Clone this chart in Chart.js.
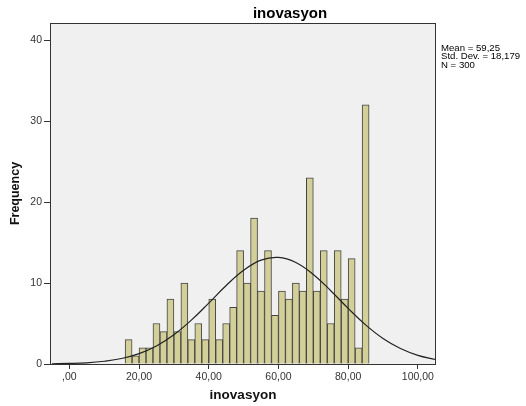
<!DOCTYPE html>
<html>
<head>
<meta charset="utf-8">
<script src="https://cdn.jsdelivr.net/npm/chart.js@4.4.0/dist/chart.umd.min.js"></script>
<style>
  body { margin: 0; background: #fff; }
  #histChart { display: block; }
</style>
</head>
<body>
<canvas id="histChart" width="526" height="406"></canvas>
<script>
// Histogram bins (width 2), centres and counts
const binCenters = [17, 19, 21, 23, 25, 27, 29, 31, 33, 35, 37, 39, 41, 43, 45, 47, 49, 51, 53, 55,
                    57, 59, 61, 63, 65, 67, 69, 71, 73, 75, 77, 79, 81, 83, 85];
const counts = [3, 1, 2, 2, 5, 4, 8, 4, 10, 3, 5, 3, 8, 3, 5, 7, 14, 10, 18, 9,
                14, 6, 9, 8, 10, 9, 23, 9, 14, 5, 14, 8, 13, 2, 32];

// Normal curve
const curveX = [-5, 0, 5, 10, 15, 20, 25, 30, 35, 40, 45, 50, 55, 60, 65, 70, 75, 80, 85, 90, 95, 100, 105];
const curveY = [0.03, 0.07, 0.15, 0.34, 0.68, 1.28, 2.23, 3.61, 5.41, 7.52, 9.69, 11.57, 12.82, 13.16,
                12.53, 11.06, 9.05, 6.87, 4.83, 3.15, 1.91, 1.07, 0.56];

// Axis ticks
const xTickValues = [0, 20, 40, 60, 80, 100];
const xTickLabels = [',00', '20,00', '40,00', '60,00', '80,00', '100,00'];
const yTickValues = [0, 10, 20, 30, 40];

const statLines = ['Mean = 59,25', 'Std. Dev. = 18,179', 'N = 300'];

const FONT = "'Liberation Sans', Arial, sans-serif";

// background, frame, title and stats box
const frame = {
    id: 'frame',
    beforeDraw(chart) {
        const { ctx, chartArea: a } = chart;
        ctx.save();
        ctx.fillStyle = '#f0f0f0';
        ctx.fillRect(a.left, a.top, a.right - a.left, a.bottom - a.top);
        ctx.restore();
    },
    afterDraw(chart) {
        const { ctx, chartArea: a } = chart;
        ctx.save();
        ctx.strokeStyle = '#333';
        ctx.lineWidth = 1;
        ctx.strokeRect(a.left + 0.5, a.top + 0.5, a.right - a.left - 1, a.bottom - a.top);

        ctx.fillStyle = '#000';
        ctx.font = 'bold 15px ' + FONT;
        ctx.textAlign = 'center';
        ctx.textBaseline = 'alphabetic';
        ctx.fillText('inovasyon', 290, 18);

        // the stats text is a bit wide in the original, stretch it
        ctx.font = '8.5px ' + FONT;
        ctx.textAlign = 'left';
        statLines.forEach((s, i) => {
            ctx.save();
            ctx.translate(441, 50.5 + i * 8.5);
            ctx.scale(1.13, 1);
            ctx.fillText(s, 0, 0);
            ctx.restore();
        });
        ctx.restore();
    }
};

const ctx = document.getElementById('histChart').getContext('2d');
const histChart = new Chart(ctx, {
    type: 'bar',
    data: {
        datasets: [{
            type: 'bar',
            data: binCenters.map((c, i) => ({ x: c, y: counts[i] })),
            backgroundColor: '#d3cf98',
            borderColor: '#444',
            borderWidth: 1,
            barPercentage: 1,
            categoryPercentage: 1,
            order: 2
        }, {
            type: 'line',
            data: curveX.map((x, i) => ({ x: x, y: curveY[i] })),
            borderColor: '#222',
            borderWidth: 1.2,
            pointRadius: 0,
            tension: 0.4,
            fill: false,
            order: 1
        }]
    },
    options: {
        responsive: false,
        animation: false,
        layout: { padding: { top: 23, right: 90, left: 0, bottom: 0 } },
        plugins: { legend: { display: false }, tooltip: { enabled: false } },
        scales: {
            x: {
                type: 'linear',
                min: -5.55,
                max: 105.2,
                offset: false,
                afterBuildTicks: s => { s.ticks = xTickValues.map(v => ({ value: v })); },
                afterFit: s => { s.height = 42; },
                ticks: {
                    color: '#333',
                    font: { family: FONT, size: 10.5 },
                    padding: 2,
                    maxRotation: 0,
                    callback: (v) => xTickLabels[xTickValues.indexOf(v)]
                },
                grid: { display: true, drawOnChartArea: false, drawTicks: true, tickLength: 5, color: '#333', offset: false },
                border: { display: false },
                title: {
                    display: true,
                    text: 'inovasyon',
                    color: '#111',
                    font: { family: FONT, size: 13.5, weight: 'bold' },
                    padding: { top: 0, bottom: 2.5 }
                }
            },
            y: {
                min: 0,
                max: 42.1,
                afterBuildTicks: s => { s.ticks = yTickValues.map(v => ({ value: v })); },
                afterFit: s => { s.width = 50; },
                ticks: {
                    color: '#333',
                    font: { family: FONT, size: 10.5 },
                    padding: 2
                },
                grid: { display: true, drawOnChartArea: false, drawTicks: true, tickLength: 6, color: '#333' },
                border: { display: false },
                title: {
                    display: true,
                    text: 'Frequency',
                    color: '#111',
                    font: { family: FONT, size: 12.5, weight: 'bold' },
                    padding: { top: 8.5, bottom: 0 }
                }
            }
        }
    },
    plugins: [frame]
});
</script>
</body>
</html>
